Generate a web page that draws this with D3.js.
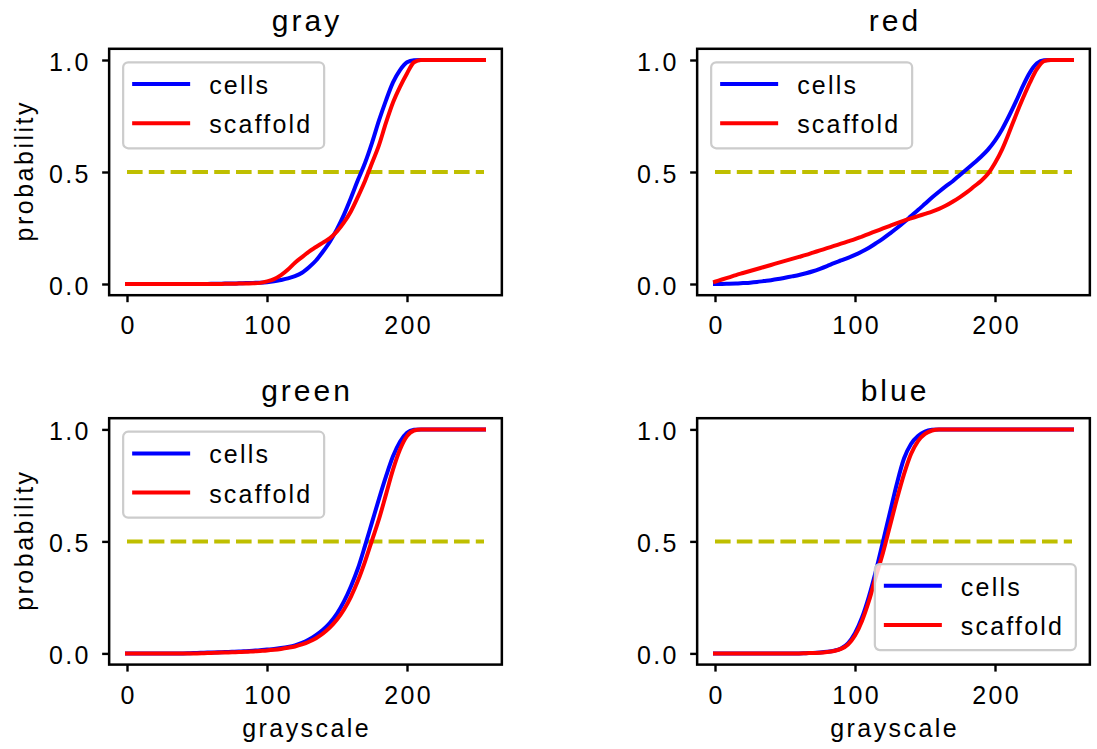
<!DOCTYPE html>
<html>
<head>
<meta charset="utf-8">
<script src="https://cdn.jsdelivr.net/npm/d3@7"></script>
<style>
  html, body { margin: 0; padding: 0; background: #fff; }
  svg { display: block; }
</style>
</head>
<body>
<svg id="chart" width="1097" height="749"></svg>
<script>
// ---------------- DATA ----------------
const titles = ["gray", "red", "green", "blue"];
const seriesNames = ["cells", "scaffold"];
const xTicks = [0, 100, 200];
const yTicks = [0.0, 0.5, 1.0];
const yTickLabels = ["0.0", "0.5", "1.0"];
const threshold = 0.5;

// grayscale sample positions (0..255)
const grayscale = [0,5,10,15,20,25,30,35,40,45,50,55,60,65,70,75,80,85,90,95,100,105,110,115,120,125,130,135,140,145,150,155,160,165,170,175,180,185,190,195,200,205,210,215,220,225,230,235,240,245,250,255];

const grayCells =     [0,0,0,0,0,0,0,0,0,0,0,0,0.001,0.001,0.002,0.002,0.003,0.004,0.005,0.006,0.008,0.012,0.018,0.025,0.035,0.05,0.075,0.105,0.145,0.19,0.245,0.31,0.385,0.465,0.54,0.63,0.73,0.82,0.9,0.955,0.99,0.999,1,1,1,1,1,1,1,1,1,1];
const grayScaffold =  [0,0,0,0,0,0,0,0,0,0,0,0,0,0,0.001,0.001,0.002,0.002,0.003,0.005,0.012,0.022,0.04,0.065,0.095,0.12,0.145,0.165,0.185,0.205,0.235,0.275,0.325,0.39,0.46,0.54,0.62,0.72,0.81,0.88,0.94,0.99,1,1,1,1,1,1,1,1,1,1];

const redCells =      [0,0.0005,0.001,0.002,0.004,0.006,0.009,0.013,0.017,0.022,0.028,0.034,0.04,0.048,0.057,0.068,0.08,0.093,0.105,0.117,0.13,0.145,0.162,0.182,0.203,0.226,0.25,0.276,0.303,0.33,0.358,0.386,0.412,0.437,0.46,0.487,0.513,0.54,0.568,0.6,0.64,0.69,0.75,0.815,0.885,0.945,0.985,0.999,1,1,1,1];
const redScaffold =   [0.01,0.02,0.03,0.04,0.049,0.058,0.067,0.076,0.085,0.094,0.103,0.112,0.121,0.13,0.14,0.15,0.16,0.17,0.18,0.19,0.2,0.212,0.224,0.236,0.248,0.26,0.272,0.283,0.293,0.303,0.313,0.323,0.335,0.35,0.368,0.388,0.41,0.435,0.46,0.492,0.54,0.6,0.675,0.755,0.83,0.9,0.96,0.995,1,1,1,1];

const greenCells =    [0,0,0,0,0,0,0,0,0,0.001,0.002,0.003,0.004,0.005,0.006,0.007,0.008,0.01,0.012,0.014,0.017,0.02,0.024,0.029,0.036,0.047,0.062,0.082,0.106,0.137,0.178,0.232,0.3,0.38,0.48,0.585,0.69,0.79,0.88,0.945,0.985,0.998,1,1,1,1,1,1,1,1,1,1];
const greenScaffold = [0,0,0,0,0,0,0,0,0,0,0,0.001,0.002,0.003,0.004,0.005,0.006,0.007,0.009,0.011,0.013,0.016,0.02,0.025,0.031,0.04,0.052,0.068,0.089,0.116,0.151,0.196,0.254,0.325,0.41,0.505,0.6,0.71,0.82,0.91,0.97,0.995,1,1,1,1,1,1,1,1,1,1];

const blueCells =     [0,0,0,0,0,0,0,0,0,0,0,0,0,0.001,0.002,0.004,0.007,0.012,0.022,0.045,0.09,0.16,0.255,0.37,0.5,0.63,0.76,0.87,0.935,0.97,0.99,0.998,1,1,1,1,1,1,1,1,1,1,1,1,1,1,1,1,1,1,1,1];
const blueScaffold =  [0,0,0,0,0,0,0,0,0,0,0,0,0,0.001,0.002,0.003,0.006,0.011,0.02,0.04,0.08,0.145,0.235,0.345,0.45,0.57,0.69,0.8,0.89,0.948,0.98,0.995,1,1,1,1,1,1,1,1,1,1,1,1,1,1,1,1,1,1,1,1];

const panelSeries = [
  [grayCells, grayScaffold],
  [redCells, redScaffold],
  [greenCells, greenScaffold],
  [blueCells, blueScaffold]
];
const legendCorner = ["upper left", "upper left", "upper left", "lower right"];
const seriesColors = ["#0000ff", "#ff0000"];

// ---------------- LAYOUT ----------------
const svg = d3.select("#chart");
const FONT = "'Liberation Sans', Arial, sans-serif";
const LS = 2.3;
const colX = [[109.15, 501.85], [697.15, 1089.85]];
const rowY = [[48.8, 295.2], [418.2, 664.6]];

titles.forEach((title, i) => {
  const col = i % 2, row = Math.floor(i / 2);
  const [x0, x1] = colX[col];
  const [y0, y1] = rowY[row];
  const x = d3.scaleLinear().domain([-12.75, 267.75]).range([x0, x1]);
  const y = d3.scaleLinear().domain([-0.05, 1.05]).range([y1, y0]);
  const g = svg.append("g");

  // threshold dashed line
  g.append("line")
    .attr("x1", x(0)).attr("x2", x(255))
    .attr("y1", y(threshold)).attr("y2", y(threshold))
    .attr("stroke", "#bfbf00").attr("stroke-width", 4)
    .attr("stroke-dasharray", "15.6,6.2");

  // series lines
  const line = d3.line()
    .x((d, k) => x(grayscale[k]))
    .y(d => y(d))
    .curve(d3.curveMonotoneX);
  panelSeries[i].forEach((vals, s) => {
    g.append("path")
      .attr("d", line(vals))
      .attr("fill", "none")
      .attr("stroke", seriesColors[s])
      .attr("stroke-width", 4)
      .attr("stroke-linejoin", "round")
      .attr("stroke-linecap", "square");
  });

  // axes
  const xAxis = g.append("g").attr("transform", `translate(0,${y1})`)
    .call(d3.axisBottom(x).tickValues(xTicks).tickSize(7).tickPadding(0).tickFormat(d3.format("d")));
  const yAxis = g.append("g").attr("transform", `translate(${x0},0)`)
    .call(d3.axisLeft(y).tickValues(yTicks).tickSize(7).tickFormat((d, k) => yTickLabels[k]));
  [xAxis, yAxis].forEach(a => {
    a.select(".domain").remove();
    a.selectAll(".tick line").attr("stroke", "#000").attr("stroke-width", 2.4);
    a.selectAll(".tick text")
      .attr("font-family", FONT).attr("font-size", 25)
      .attr("letter-spacing", LS).attr("fill", "#000");
  });
  xAxis.selectAll(".tick text").attr("y", 39).attr("dy", null).attr("dx", LS / 2);
  yAxis.selectAll(".tick text").attr("x", -18.5).attr("dy", 10).attr("dx", null);

  // frame
  g.append("rect")
    .attr("x", x0).attr("y", y0)
    .attr("width", x1 - x0).attr("height", y1 - y0)
    .attr("fill", "none").attr("stroke", "#000").attr("stroke-width", 2.5);

  // title
  g.append("text")
    .attr("x", (x0 + x1) / 2 + 1.5).attr("y", y0 - 17.5)
    .attr("text-anchor", "middle")
    .attr("font-family", FONT).attr("font-size", 30).attr("letter-spacing", 3)
    .text(title);

  // axis labels
  if (col === 0) {
    g.append("text")
      .attr("transform", `translate(33,${(y0 + y1) / 2}) rotate(-90)`)
      .attr("text-anchor", "middle").attr("dx", 1.25)
      .attr("font-family", FONT).attr("font-size", 25).attr("letter-spacing", 2.5)
      .text("probability");
  }
  if (row === 1) {
    g.append("text")
      .attr("x", (x0 + x1) / 2 + 1.2).attr("y", 736.5)
      .attr("text-anchor", "middle")
      .attr("font-family", FONT).attr("font-size", 25).attr("letter-spacing", 2.45)
      .text("grayscale");
  }

  // legend
  const lw = 201, lh = 86;
  let lx, ly;
  if (legendCorner[i] === "upper left") { lx = x0 + 14; ly = y0 + 13.5; }
  else { lx = x1 - 14 - lw; ly = y1 - 14.5 - lh; }
  const leg = g.append("g").attr("transform", `translate(${lx},${ly})`);
  leg.append("rect")
    .attr("width", lw).attr("height", lh).attr("rx", 5)
    .attr("fill", "#fff").attr("fill-opacity", 0.8)
    .attr("stroke", "#cccccc").attr("stroke-width", 2.2);
  seriesNames.forEach((name, s) => {
    const yy = 21.7 + s * 39.2;
    leg.append("line")
      .attr("x1", 9).attr("x2", 67).attr("y1", yy).attr("y2", yy)
      .attr("stroke", seriesColors[s]).attr("stroke-width", 4);
    leg.append("text")
      .attr("x", 86).attr("y", yy + 10)
      .attr("font-family", FONT).attr("font-size", 25).attr("letter-spacing", 2.2)
      .text(name);
  });
});
</script>
</body>
</html>
